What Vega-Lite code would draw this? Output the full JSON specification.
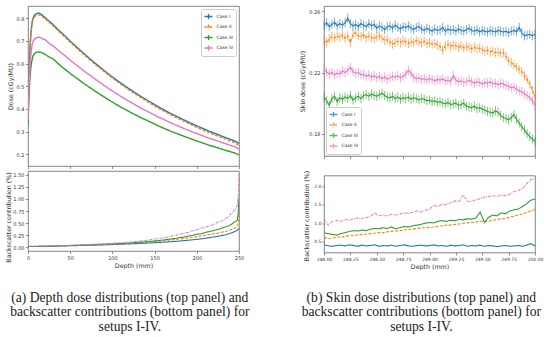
{
"$schema": "https://vega.github.io/schema/vega-lite/v6.json",
"background": "white",
"padding": 5,
"config": {
 "font": "DejaVu Sans",
 "view": {"stroke": "#666", "strokeWidth": 0.8},
 "axis": {"labelFont": "DejaVu Sans", "titleFont": "DejaVu Sans", "labelFontSize": 5, "titleFontSize": 6.3, "titleFontWeight": "normal", "labelColor": "#333", "titleColor": "#333", "tickColor": "#444", "tickSize": 2.5, "tickWidth": 0.6, "labelPadding": 1.5, "domain": false, "grid": false, "labelFlush": false, "labelOverlap": false, "titlePadding": 2},
 "legend": {"title": null, "labelFont": "DejaVu Sans", "labelFontSize": 4.5, "labelColor": "#333", "symbolSize": 64, "symbolStrokeWidth": 1.3, "symbolType": "M-1,0H1M0,-0.6V0.6", "rowPadding": 0.5, "padding": 2.5, "labelOffset": 3, "strokeColor": "#ccc", "fillColor": "white", "cornerRadius": 2}
},
"datasets": {
 "depth": [
  {"d":0,"I":0.37,"II":0.37,"III":0.33,"IV":0.35},
  {"d":1,"I":0.53,"II":0.53,"III":0.44,"IV":0.48},
  {"d":2,"I":0.64,"II":0.635,"III":0.52,"IV":0.57},
  {"d":3,"I":0.71,"II":0.705,"III":0.57,"IV":0.625},
  {"d":4,"I":0.755,"II":0.75,"III":0.6,"IV":0.66},
  {"d":5,"I":0.785,"II":0.78,"III":0.62,"IV":0.685},
  {"d":6,"I":0.8,"II":0.795,"III":0.635,"IV":0.698},
  {"d":8,"I":0.815,"II":0.808,"III":0.645,"IV":0.709},
  {"d":10,"I":0.82,"II":0.813,"III":0.65,"IV":0.714},
  {"d":12,"I":0.823,"II":0.815,"III":0.651,"IV":0.716},
  {"d":14,"I":0.821,"II":0.814,"III":0.65,"IV":0.715},
  {"d":16,"I":0.816,"II":0.81,"III":0.649,"IV":0.712},
  {"d":18,"I":0.81,"II":0.804,"III":0.645,"IV":0.707},
  {"d":20,"I":0.804,"II":0.799,"III":0.641,"IV":0.706},
  {"d":25,"I":0.787,"II":0.782,"III":0.629,"IV":0.69},
  {"d":30,"I":0.771,"II":0.766,"III":0.62,"IV":0.677},
  {"d":35,"I":0.752,"II":0.747,"III":0.602,"IV":0.661},
  {"d":40,"I":0.735,"II":0.73,"III":0.586,"IV":0.646},
  {"d":45,"I":0.717,"II":0.712,"III":0.571,"IV":0.631},
  {"d":50,"I":0.699,"II":0.694,"III":0.556,"IV":0.615},
  {"d":55,"I":0.682,"II":0.677,"III":0.543,"IV":0.6},
  {"d":60,"I":0.665,"II":0.66,"III":0.529,"IV":0.586},
  {"d":65,"I":0.648,"II":0.643,"III":0.515,"IV":0.571},
  {"d":70,"I":0.632,"II":0.627,"III":0.502,"IV":0.557},
  {"d":75,"I":0.616,"II":0.611,"III":0.49,"IV":0.544},
  {"d":80,"I":0.6,"II":0.595,"III":0.477,"IV":0.53},
  {"d":85,"I":0.585,"II":0.58,"III":0.465,"IV":0.517},
  {"d":90,"I":0.57,"II":0.565,"III":0.453,"IV":0.504},
  {"d":95,"I":0.555,"II":0.55,"III":0.441,"IV":0.491},
  {"d":100,"I":0.541,"II":0.536,"III":0.43,"IV":0.479},
  {"d":105,"I":0.527,"II":0.522,"III":0.419,"IV":0.467},
  {"d":110,"I":0.514,"II":0.509,"III":0.408,"IV":0.455},
  {"d":115,"I":0.501,"II":0.496,"III":0.398,"IV":0.444},
  {"d":120,"I":0.488,"II":0.483,"III":0.388,"IV":0.433},
  {"d":125,"I":0.476,"II":0.471,"III":0.378,"IV":0.422},
  {"d":130,"I":0.464,"II":0.459,"III":0.369,"IV":0.412},
  {"d":135,"I":0.452,"II":0.447,"III":0.359,"IV":0.401},
  {"d":140,"I":0.441,"II":0.436,"III":0.351,"IV":0.392},
  {"d":145,"I":0.43,"II":0.424,"III":0.342,"IV":0.382},
  {"d":150,"I":0.419,"II":0.413,"III":0.333,"IV":0.373},
  {"d":155,"I":0.408,"II":0.402,"III":0.324,"IV":0.363},
  {"d":160,"I":0.398,"II":0.392,"III":0.316,"IV":0.355},
  {"d":165,"I":0.388,"II":0.382,"III":0.308,"IV":0.346},
  {"d":170,"I":0.378,"II":0.372,"III":0.3,"IV":0.337},
  {"d":175,"I":0.369,"II":0.363,"III":0.293,"IV":0.329},
  {"d":180,"I":0.36,"II":0.354,"III":0.286,"IV":0.321},
  {"d":185,"I":0.351,"II":0.345,"III":0.279,"IV":0.313},
  {"d":190,"I":0.342,"II":0.336,"III":0.272,"IV":0.306},
  {"d":195,"I":0.333,"II":0.327,"III":0.265,"IV":0.298},
  {"d":200,"I":0.325,"II":0.319,"III":0.258,"IV":0.291},
  {"d":205,"I":0.317,"II":0.311,"III":0.252,"IV":0.284},
  {"d":210,"I":0.309,"II":0.302,"III":0.246,"IV":0.277},
  {"d":215,"I":0.301,"II":0.294,"III":0.239,"IV":0.27},
  {"d":220,"I":0.294,"II":0.287,"III":0.234,"IV":0.264},
  {"d":225,"I":0.287,"II":0.28,"III":0.228,"IV":0.258},
  {"d":230,"I":0.279,"II":0.272,"III":0.222,"IV":0.251},
  {"d":235,"I":0.272,"II":0.265,"III":0.216,"IV":0.245},
  {"d":240,"I":0.265,"II":0.258,"III":0.211,"IV":0.239},
  {"d":245,"I":0.258,"II":0.25,"III":0.205,"IV":0.233},
  {"d":250,"I":0.248,"II":0.238,"III":0.197,"IV":0.223}
 ],
 "bsA": [
  {"d":0,"I":0.01,"II":0.01,"III":0.01,"IV":0.02},
  {"d":10,"I":0.01,"II":0.012,"III":0.012,"IV":0.02},
  {"d":20,"I":0.015,"II":0.015,"III":0.016,"IV":0.022},
  {"d":30,"I":0.018,"II":0.02,"III":0.02,"IV":0.025},
  {"d":40,"I":0.022,"II":0.025,"III":0.026,"IV":0.03},
  {"d":50,"I":0.026,"II":0.03,"III":0.032,"IV":0.036},
  {"d":60,"I":0.03,"II":0.035,"III":0.038,"IV":0.042},
  {"d":70,"I":0.035,"II":0.04,"III":0.044,"IV":0.05},
  {"d":80,"I":0.04,"II":0.046,"III":0.05,"IV":0.058},
  {"d":90,"I":0.046,"II":0.053,"III":0.058,"IV":0.066},
  {"d":100,"I":0.052,"II":0.06,"III":0.066,"IV":0.076},
  {"d":110,"I":0.058,"II":0.068,"III":0.075,"IV":0.088},
  {"d":120,"I":0.065,"II":0.077,"III":0.085,"IV":0.1},
  {"d":130,"I":0.072,"II":0.088,"III":0.097,"IV":0.118},
  {"d":140,"I":0.08,"II":0.1,"III":0.11,"IV":0.14},
  {"d":150,"I":0.09,"II":0.115,"III":0.127,"IV":0.165},
  {"d":160,"I":0.1,"II":0.13,"III":0.145,"IV":0.19},
  {"d":170,"I":0.112,"II":0.148,"III":0.17,"IV":0.225},
  {"d":175,"I":0.118,"II":0.157,"III":0.178,"IV":0.248},
  {"d":180,"I":0.125,"II":0.167,"III":0.198,"IV":0.262},
  {"d":185,"I":0.133,"II":0.178,"III":0.207,"IV":0.29},
  {"d":190,"I":0.142,"II":0.19,"III":0.228,"IV":0.305},
  {"d":195,"I":0.15,"II":0.203,"III":0.242,"IV":0.34},
  {"d":200,"I":0.16,"II":0.216,"III":0.268,"IV":0.355},
  {"d":205,"I":0.17,"II":0.23,"III":0.272,"IV":0.395},
  {"d":210,"I":0.182,"II":0.245,"III":0.303,"IV":0.405},
  {"d":215,"I":0.195,"II":0.26,"III":0.322,"IV":0.445},
  {"d":220,"I":0.208,"II":0.275,"III":0.345,"IV":0.47},
  {"d":225,"I":0.222,"II":0.29,"III":0.365,"IV":0.515},
  {"d":230,"I":0.24,"II":0.31,"III":0.395,"IV":0.545},
  {"d":235,"I":0.26,"II":0.33,"III":0.425,"IV":0.605},
  {"d":238,"I":0.275,"II":0.345,"III":0.445,"IV":0.635},
  {"d":240,"I":0.29,"II":0.36,"III":0.46,"IV":0.685},
  {"d":242,"I":0.3,"II":0.37,"III":0.485,"IV":0.715},
  {"d":244,"I":0.315,"II":0.385,"III":0.515,"IV":0.765},
  {"d":246,"I":0.33,"II":0.4,"III":0.535,"IV":0.8},
  {"d":247,"I":0.34,"II":0.41,"III":0.54,"IV":0.83},
  {"d":248,"I":0.35,"II":0.43,"III":0.57,"IV":0.88},
  {"d":248.5,"I":0.36,"II":0.46,"III":0.62,"IV":0.95},
  {"d":249,"I":0.37,"II":0.52,"III":0.7,"IV":1.05},
  {"d":249.5,"I":0.38,"II":0.65,"III":0.88,"IV":1.25},
  {"d":250,"I":0.39,"II":0.88,"III":1.03,"IV":1.52}
 ],
 "skin": [
  {"d":248.000,"I":0.2510,"II":0.2410,"III":0.2040,"IV":0.2225},
  {"d":248.025,"I":0.2525,"II":0.2395,"III":0.2015,"IV":0.2205},
  {"d":248.050,"I":0.2500,"II":0.2420,"III":0.1985,"IV":0.2190},
  {"d":248.075,"I":0.2515,"II":0.2435,"III":0.2030,"IV":0.2200},
  {"d":248.100,"I":0.2530,"II":0.2425,"III":0.2045,"IV":0.2185},
  {"d":248.125,"I":0.2505,"II":0.2440,"III":0.2010,"IV":0.2195},
  {"d":248.150,"I":0.2520,"II":0.2430,"III":0.2035,"IV":0.2190},
  {"d":248.175,"I":0.2510,"II":0.2445,"III":0.2025,"IV":0.2210},
  {"d":248.200,"I":0.2525,"II":0.2425,"III":0.2040,"IV":0.2200},
  {"d":248.225,"I":0.2555,"II":0.2440,"III":0.2030,"IV":0.2215},
  {"d":248.250,"I":0.2520,"II":0.2395,"III":0.2050,"IV":0.2235},
  {"d":248.275,"I":0.2505,"II":0.2450,"III":0.2020,"IV":0.2205},
  {"d":248.300,"I":0.2515,"II":0.2460,"III":0.2035,"IV":0.2195},
  {"d":248.325,"I":0.2500,"II":0.2440,"III":0.2045,"IV":0.2200},
  {"d":248.350,"I":0.2520,"II":0.2435,"III":0.2030,"IV":0.2185},
  {"d":248.375,"I":0.2510,"II":0.2450,"III":0.2050,"IV":0.2190},
  {"d":248.400,"I":0.2500,"II":0.2425,"III":0.2055,"IV":0.2175},
  {"d":248.425,"I":0.2520,"II":0.2440,"III":0.2045,"IV":0.2185},
  {"d":248.450,"I":0.2505,"II":0.2430,"III":0.2060,"IV":0.2170},
  {"d":248.475,"I":0.2515,"II":0.2420,"III":0.2050,"IV":0.2180},
  {"d":248.500,"I":0.2490,"II":0.2435,"III":0.2045,"IV":0.2165},
  {"d":248.525,"I":0.2505,"II":0.2440,"III":0.2055,"IV":0.2175},
  {"d":248.550,"I":0.2495,"II":0.2425,"III":0.2065,"IV":0.2160},
  {"d":248.575,"I":0.2480,"II":0.2410,"III":0.2050,"IV":0.2170},
  {"d":248.600,"I":0.2500,"II":0.2415,"III":0.2040,"IV":0.2155},
  {"d":248.625,"I":0.2505,"II":0.2400,"III":0.2035,"IV":0.2165},
  {"d":248.650,"I":0.2490,"II":0.2385,"III":0.2045,"IV":0.2175},
  {"d":248.675,"I":0.2510,"II":0.2395,"III":0.2030,"IV":0.2170},
  {"d":248.700,"I":0.2495,"II":0.2405,"III":0.2040,"IV":0.2180},
  {"d":248.725,"I":0.2485,"II":0.2395,"III":0.2025,"IV":0.2165},
  {"d":248.750,"I":0.2500,"II":0.2410,"III":0.2035,"IV":0.2175},
  {"d":248.775,"I":0.2495,"II":0.2400,"III":0.2030,"IV":0.2190},
  {"d":248.800,"I":0.2505,"II":0.2390,"III":0.2040,"IV":0.2215},
  {"d":248.825,"I":0.2490,"II":0.2405,"III":0.2025,"IV":0.2195},
  {"d":248.850,"I":0.2480,"II":0.2395,"III":0.2035,"IV":0.2170},
  {"d":248.875,"I":0.2495,"II":0.2410,"III":0.2030,"IV":0.2160},
  {"d":248.900,"I":0.2500,"II":0.2400,"III":0.2020,"IV":0.2165},
  {"d":248.925,"I":0.2485,"II":0.2395,"III":0.2030,"IV":0.2155},
  {"d":248.950,"I":0.2475,"II":0.2405,"III":0.2025,"IV":0.2160},
  {"d":248.975,"I":0.2490,"II":0.2390,"III":0.2015,"IV":0.2150},
  {"d":249.000,"I":0.2480,"II":0.2395,"III":0.2020,"IV":0.2160},
  {"d":249.025,"I":0.2470,"II":0.2385,"III":0.2010,"IV":0.2155},
  {"d":249.050,"I":0.2485,"II":0.2390,"III":0.2015,"IV":0.2145},
  {"d":249.075,"I":0.2475,"II":0.2380,"III":0.2005,"IV":0.2155},
  {"d":249.100,"I":0.2480,"II":0.2370,"III":0.2010,"IV":0.2150},
  {"d":249.125,"I":0.2495,"II":0.2345,"III":0.2000,"IV":0.2160},
  {"d":249.150,"I":0.2470,"II":0.2375,"III":0.1995,"IV":0.2145},
  {"d":249.175,"I":0.2485,"II":0.2385,"III":0.2005,"IV":0.2150},
  {"d":249.200,"I":0.2475,"II":0.2370,"III":0.1990,"IV":0.2140},
  {"d":249.225,"I":0.2480,"II":0.2380,"III":0.1995,"IV":0.2180},
  {"d":249.250,"I":0.2470,"II":0.2375,"III":0.2000,"IV":0.2150},
  {"d":249.275,"I":0.2485,"II":0.2365,"III":0.1985,"IV":0.2140},
  {"d":249.300,"I":0.2475,"II":0.2375,"III":0.1990,"IV":0.2145},
  {"d":249.325,"I":0.2470,"II":0.2360,"III":0.2000,"IV":0.2135},
  {"d":249.350,"I":0.2480,"II":0.2370,"III":0.1980,"IV":0.2140},
  {"d":249.375,"I":0.2490,"II":0.2365,"III":0.1975,"IV":0.2150},
  {"d":249.400,"I":0.2475,"II":0.2355,"III":0.1970,"IV":0.2140},
  {"d":249.425,"I":0.2470,"II":0.2365,"III":0.1980,"IV":0.2130},
  {"d":249.450,"I":0.2480,"II":0.2355,"III":0.1965,"IV":0.2140},
  {"d":249.475,"I":0.2465,"II":0.2360,"III":0.1970,"IV":0.2135},
  {"d":249.500,"I":0.2475,"II":0.2350,"III":0.1960,"IV":0.2125},
  {"d":249.525,"I":0.2470,"II":0.2340,"III":0.1955,"IV":0.2135},
  {"d":249.550,"I":0.2465,"II":0.2345,"III":0.1945,"IV":0.2130},
  {"d":249.575,"I":0.2475,"II":0.2335,"III":0.1940,"IV":0.2140},
  {"d":249.600,"I":0.2470,"II":0.2340,"III":0.1935,"IV":0.2125},
  {"d":249.625,"I":0.2465,"II":0.2330,"III":0.1950,"IV":0.2130},
  {"d":249.650,"I":0.2475,"II":0.2335,"III":0.1940,"IV":0.2120},
  {"d":249.675,"I":0.2470,"II":0.2325,"III":0.1920,"IV":0.2130},
  {"d":249.700,"I":0.2465,"II":0.2330,"III":0.1905,"IV":0.2125},
  {"d":249.725,"I":0.2470,"II":0.2305,"III":0.1900,"IV":0.2115},
  {"d":249.750,"I":0.2460,"II":0.2275,"III":0.1890,"IV":0.2110},
  {"d":249.775,"I":0.2470,"II":0.2265,"III":0.1905,"IV":0.2100},
  {"d":249.800,"I":0.2475,"II":0.2250,"III":0.1925,"IV":0.2105},
  {"d":249.825,"I":0.2465,"II":0.2235,"III":0.1895,"IV":0.2090},
  {"d":249.850,"I":0.2495,"II":0.2220,"III":0.1870,"IV":0.2080},
  {"d":249.875,"I":0.2460,"II":0.2205,"III":0.1845,"IV":0.2075},
  {"d":249.900,"I":0.2440,"II":0.2180,"III":0.1825,"IV":0.2060},
  {"d":249.925,"I":0.2445,"II":0.2155,"III":0.1800,"IV":0.2050},
  {"d":249.950,"I":0.2450,"II":0.2125,"III":0.1780,"IV":0.2035},
  {"d":249.975,"I":0.2440,"II":0.2085,"III":0.1765,"IV":0.2015},
  {"d":250.000,"I":0.2450,"II":0.2040,"III":0.1750,"IV":0.1985}
 ],
 "bsB": [
  {"d":248.00,"I":0.42,"II":0.62,"III":0.74,"IV":1.10},
  {"d":248.04,"I":0.39,"II":0.59,"III":0.72,"IV":0.95},
  {"d":248.08,"I":0.38,"II":0.60,"III":0.70,"IV":1.05},
  {"d":248.12,"I":0.40,"II":0.63,"III":0.68,"IV":1.08},
  {"d":248.16,"I":0.41,"II":0.62,"III":0.72,"IV":1.04},
  {"d":248.20,"I":0.39,"II":0.65,"III":0.75,"IV":1.10},
  {"d":248.24,"I":0.42,"II":0.66,"III":0.78,"IV":1.08},
  {"d":248.28,"I":0.40,"II":0.67,"III":0.80,"IV":1.12},
  {"d":248.32,"I":0.38,"II":0.69,"III":0.79,"IV":1.14},
  {"d":248.36,"I":0.41,"II":0.70,"III":0.82,"IV":1.12},
  {"d":248.40,"I":0.39,"II":0.71,"III":0.80,"IV":1.15},
  {"d":248.44,"I":0.40,"II":0.72,"III":0.84,"IV":1.18},
  {"d":248.48,"I":0.42,"II":0.73,"III":0.86,"IV":1.28},
  {"d":248.52,"I":0.38,"II":0.75,"III":0.85,"IV":1.20},
  {"d":248.56,"I":0.40,"II":0.74,"III":0.88,"IV":1.22},
  {"d":248.60,"I":0.39,"II":0.77,"III":0.86,"IV":1.19},
  {"d":248.64,"I":0.41,"II":0.78,"III":0.90,"IV":1.24},
  {"d":248.68,"I":0.38,"II":0.79,"III":0.85,"IV":1.22},
  {"d":248.72,"I":0.40,"II":0.80,"III":0.88,"IV":1.25},
  {"d":248.76,"I":0.42,"II":0.82,"III":0.91,"IV":1.28},
  {"d":248.80,"I":0.39,"II":0.83,"III":0.90,"IV":1.26},
  {"d":248.84,"I":0.38,"II":0.84,"III":0.93,"IV":1.30},
  {"d":248.88,"I":0.40,"II":0.86,"III":0.95,"IV":1.33},
  {"d":248.92,"I":0.41,"II":0.87,"III":0.97,"IV":1.30},
  {"d":248.96,"I":0.39,"II":0.88,"III":1.00,"IV":1.35},
  {"d":249.00,"I":0.40,"II":0.89,"III":1.02,"IV":1.38},
  {"d":249.04,"I":0.42,"II":0.90,"III":1.01,"IV":1.48},
  {"d":249.08,"I":0.39,"II":0.92,"III":1.05,"IV":1.45},
  {"d":249.12,"I":0.40,"II":0.93,"III":1.07,"IV":1.52},
  {"d":249.16,"I":0.38,"II":0.95,"III":1.05,"IV":1.50},
  {"d":249.20,"I":0.41,"II":0.95,"III":1.08,"IV":1.55},
  {"d":249.24,"I":0.39,"II":0.97,"III":1.07,"IV":1.60},
  {"d":249.28,"I":0.40,"II":0.98,"III":1.10,"IV":1.58},
  {"d":249.32,"I":0.42,"II":1.00,"III":1.09,"IV":1.76},
  {"d":249.36,"I":0.38,"II":1.01,"III":1.12,"IV":1.58},
  {"d":249.40,"I":0.40,"II":1.02,"III":1.11,"IV":1.60},
  {"d":249.44,"I":0.39,"II":1.03,"III":1.14,"IV":1.63},
  {"d":249.48,"I":0.41,"II":1.06,"III":1.30,"IV":1.66},
  {"d":249.52,"I":0.38,"II":1.04,"III":1.02,"IV":1.70},
  {"d":249.56,"I":0.40,"II":1.06,"III":1.16,"IV":1.72},
  {"d":249.60,"I":0.39,"II":1.08,"III":1.22,"IV":1.74},
  {"d":249.64,"I":0.37,"II":1.10,"III":1.20,"IV":1.72},
  {"d":249.68,"I":0.39,"II":1.12,"III":1.28,"IV":1.76},
  {"d":249.72,"I":0.40,"II":1.13,"III":1.25,"IV":1.74},
  {"d":249.76,"I":0.38,"II":1.16,"III":1.33,"IV":1.78},
  {"d":249.80,"I":0.39,"II":1.19,"III":1.36,"IV":1.85},
  {"d":249.84,"I":0.40,"II":1.22,"III":1.38,"IV":1.88},
  {"d":249.88,"I":0.38,"II":1.25,"III":1.45,"IV":1.93},
  {"d":249.92,"I":0.41,"II":1.29,"III":1.52,"IV":2.05},
  {"d":249.96,"I":0.45,"II":1.33,"III":1.62,"IV":2.18},
  {"d":250.00,"I":0.39,"II":1.37,"III":1.65,"IV":2.20}
 ]
},
"resolve": {"scale": {"x": "independent", "y": "independent", "color": "independent", "strokeDash": "independent"}, "legend": {"color": "independent", "strokeDash": "independent"}},
"spacing": 49,
"hconcat": [
 {
  "vconcat": [
   {
    "width": 211, "height": 160,
    "data": {"name": "depth"},
    "transform": [{"fold": ["I", "II", "III", "IV"], "as": ["case", "v"]}],
    "mark": {"type": "line", "strokeWidth": 1.4, "clip": true},
    "encoding": {
     "x": {"field": "d", "type": "quantitative", "scale": {"domain": [0, 250], "nice": false}, "axis": {"values": [0, 50, 100, 150, 200, 250], "labels": false, "title": null}},
     "y": {"field": "v", "type": "quantitative", "scale": {"domain": [0.148, 0.854], "nice": false, "zero": false}, "axis": {"values": [0.2, 0.3, 0.4, 0.5, 0.6, 0.7, 0.8], "format": ".1f", "title": "Dose (cGy/MU)", "titlePadding": 3}},
     "color": {"field": "case", "type": "nominal", "scale": {"domain": ["I", "II", "III", "IV"], "range": ["#1f77b4", "#ff7f0e", "#2ca02c", "#e377c2"]}, "legend": {"orient": "top-right", "offset": 3, "labelExpr": "'Case ' + datum.label"}},
     "strokeDash": {"field": "case", "type": "nominal", "scale": {"domain": ["I", "II", "III", "IV"], "range": [[1, 0], [3, 1.5], [1, 0], [1, 0]]}, "legend": null}
    }
   },
   {
    "width": 211, "height": 80,
    "data": {"name": "bsA"},
    "transform": [{"fold": ["I", "II", "III", "IV"], "as": ["case", "v"]}],
    "mark": {"type": "line", "strokeWidth": 1.1, "clip": true},
    "encoding": {
     "x": {"field": "d", "type": "quantitative", "scale": {"domain": [0, 250], "nice": false}, "axis": {"values": [0, 50, 100, 150, 200, 250], "title": "Depth (mm)"}},
     "y": {"field": "v", "type": "quantitative", "scale": {"domain": [-0.083, 1.583], "nice": false, "zero": false}, "axis": {"values": [0, 0.25, 0.5, 0.75, 1, 1.25, 1.5], "format": ".2f", "title": "Backscatter contribution (%)", "titlePadding": 1, "titleY": 46}},
     "color": {"field": "case", "type": "nominal", "scale": {"domain": ["I", "II", "III", "IV"], "range": ["#1f77b4", "#ff7f0e", "#2ca02c", "#e377c2"]}, "legend": null},
     "strokeDash": {"field": "case", "type": "nominal", "scale": {"domain": ["I", "II", "III", "IV"], "range": [[1, 0], [3, 1.5], [1, 0], [2.5, 1, 0.8, 1]]}, "legend": null}
    }
   }
  ],
  "spacing": 0,
  "resolve": {"scale": {"x": "independent", "y": "independent", "color": "independent", "strokeDash": "independent"}, "legend": {"color": "independent", "strokeDash": "independent"}},
  "title": {"text": ["(a) Depth dose distributions (top panel) and", "backscatter contributions (bottom panel) for", "setups I-IV."], "orient": "bottom", "anchor": "middle", "dx": 5, "offset": 22, "font": "Liberation Serif", "fontSize": 13.6, "fontWeight": "normal", "lineHeight": 14.5, "color": "#222"}
 },
 {
  "vconcat": [
   {
    "width": 211, "height": 150,
    "data": {"name": "skin"},
    "transform": [{"fold": ["I", "II", "III", "IV"], "as": ["case", "v"]}, {"lookup": "case", "from": {"data": {"values": [{"case": "I", "e": 0.003}, {"case": "II", "e": 0.003}, {"case": "III", "e": 0.003}, {"case": "IV", "e": 0.003}]}, "key": "case", "fields": ["e"]}}],
    "encoding": {
     "x": {"field": "d", "type": "quantitative", "scale": {"domain": [248, 250], "nice": false, "zero": false}, "axis": {"values": [248, 248.25, 248.5, 248.75, 249, 249.25, 249.5, 249.75, 250], "labels": false, "title": null}},
     "color": {"field": "case", "type": "nominal", "scale": {"domain": ["I", "II", "III", "IV"], "range": ["#1f77b4", "#ff7f0e", "#2ca02c", "#e377c2"]}, "legend": {"orient": "bottom-left", "offset": 2, "labelExpr": "'Case ' + datum.label"}}
    },
    "layer": [
     {"mark": {"type": "errorbar", "thickness": 0.8, "opacity": 0.75}, "encoding": {"y": {"field": "v", "type": "quantitative", "scale": {"domain": [0.1654, 0.2635], "nice": false, "zero": false}, "axis": {"values": [0.18, 0.2, 0.22, 0.24, 0.26], "format": ".2f", "title": "Skin dose (cGy/MU)", "titlePadding": 3}}, "yError": {"field": "e"}}},
     {"mark": {"type": "line", "strokeWidth": 1.1, "clip": true}, "encoding": {"y": {"field": "v", "type": "quantitative"}, "strokeDash": {"field": "case", "type": "nominal", "scale": {"domain": ["I", "II", "III", "IV"], "range": [[1, 0], [3, 1.5], [1, 0], [1, 0]]}, "legend": null}}}
    ]
   },
   {
    "width": 211, "height": 77,
    "data": {"name": "bsB"},
    "transform": [{"fold": ["I", "II", "III", "IV"], "as": ["case", "v"]}],
    "mark": {"type": "line", "strokeWidth": 1.1, "clip": true},
    "encoding": {
     "x": {"field": "d", "type": "quantitative", "scale": {"domain": [248, 250], "nice": false, "zero": false}, "axis": {"values": [248, 248.25, 248.5, 248.75, 249, 249.25, 249.5, 249.75, 250], "format": ".2f", "title": "Depth (mm)", "labelFontSize": 4.5}},
     "y": {"field": "v", "type": "quantitative", "scale": {"domain": [0.213, 2.284], "nice": false, "zero": false}, "axis": {"values": [0.5, 1, 1.5, 2], "format": ".1f", "title": "Backscatter contribution (%)", "titlePadding": 4, "labelPadding": 1, "tickSize": 2, "labelFontSize": 4.5, "titleY": 40}},
     "color": {"field": "case", "type": "nominal", "scale": {"domain": ["I", "II", "III", "IV"], "range": ["#1f77b4", "#ff7f0e", "#2ca02c", "#e377c2"]}, "legend": null},
     "strokeDash": {"field": "case", "type": "nominal", "scale": {"domain": ["I", "II", "III", "IV"], "range": [[1, 0], [3, 1.5], [1, 0], [2.5, 1, 0.8, 1]]}, "legend": null}
    }
   }
  ],
  "spacing": 9.5,
  "resolve": {"scale": {"x": "independent", "y": "independent", "color": "independent", "strokeDash": "independent"}, "legend": {"color": "independent", "strokeDash": "independent"}},
  "title": {"text": ["(b) Skin dose distributions (top panel) and", "backscatter contributions (bottom panel) for", "setups I-IV."], "orient": "bottom", "anchor": "middle", "offset": 21, "font": "Liberation Serif", "fontSize": 13.6, "fontWeight": "normal", "lineHeight": 14.5, "color": "#222"}
 }
]
}
